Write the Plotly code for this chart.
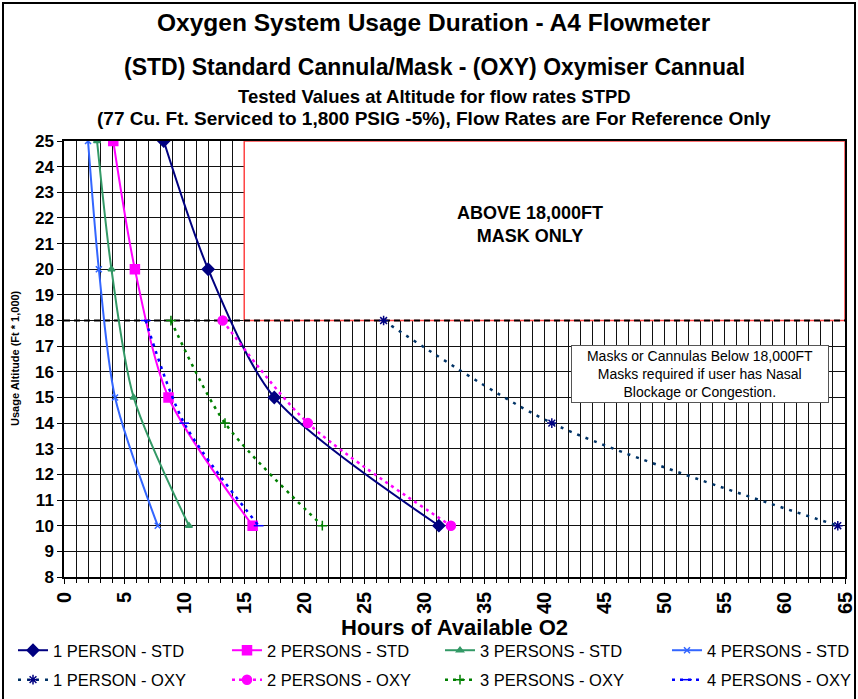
import plotly.graph_objects as go

# ---------------- data ----------------
alt_std = [25, 20, 15, 10]
alt_oxy = [18, 14, 10]

p1_std = [8.3, 12.0, 17.5, 31.2]
p2_std = [4.1, 5.9, 8.7, 15.7]
p3_std = [2.75, 3.95, 5.8, 10.4]
p4_std = [2.0, 2.9, 4.25, 7.8]

p1_oxy = [26.6, 40.6, 64.4]
p2_oxy = [13.2, 20.3, 32.2]
p3_oxy = [8.9, 13.4, 21.5]
p4_oxy = [6.8, 10.0, 16.2]

names_std = ["1 PERSON - STD", "2 PERSONS - STD", "3 PERSONS - STD", "4 PERSONS - STD"]
names_oxy = ["1 PERSON - OXY", "2 PERSONS - OXY", "3 PERSONS - OXY", "4 PERSONS - OXY"]

title_lines = [
    "Oxygen System Usage Duration - A4 Flowmeter",
    "(STD) Standard Cannula/Mask - (OXY) Oxymiser Cannual",
    "Tested Values at Altitude for flow rates STPD",
    "(77 Cu. Ft. Serviced to 1,800 PSIG -5%), Flow Rates are For Reference Only",
]
x_title = "Hours of Available O2"
y_title = "Usage Altitude (Ft * 1,000)"
mask_text = "ABOVE 18,000FT<br>MASK ONLY"
note_text = "Masks or Cannulas Below 18,000FT<br>Masks required if user has Nasal<br>Blockage or Congestion."

FONT = "Liberation Sans, Arial, sans-serif"

# ---------------- figure ----------------
W, H = 858, 699
ML, MR, MT, MB = 64, 13, 141, 122
PW = W - ML - MR
PH = H - MT - MB


def px_x(px):
    return (px - ML) / PW


def px_y(py):
    return (H - MB - py) / PH


fig = go.Figure()

std_styles = [
    dict(color="#000080", symbol="diamond", size=9),
    dict(color="#FF00FF", symbol="square", size=9),
    dict(color="#339966", symbol="triangle-up", size=6),
    dict(color="#3366FF", symbol="x-thin-open", size=6),
]
oxy_styles = [
    dict(color="#003366", mcolor="#000080", symbol="asterisk-open", size=8, dash="3px,6px"),
    dict(color="#FF00FF", mcolor="#FF00FF", symbol="circle", size=9, dash="3px,4px"),
    dict(color="#008000", mcolor="#008000", symbol="cross-thin-open", size=7, dash="3px,5px"),
    dict(color="#0000FF", mcolor="#0000FF", symbol="line-ew-open", size=7, dash="3px,5px"),
]

std_vals = [p1_std, p2_std, p3_std, p4_std]
oxy_vals = [p1_oxy, p2_oxy, p3_oxy, p4_oxy]
legends = ["legend", "legend2", "legend3", "legend4"]

for i in range(4):
    s = std_styles[i]
    fig.add_trace(go.Scatter(
        x=std_vals[i], y=alt_std, name=names_std[i], mode="lines+markers",
        line=dict(color=s["color"], width=2, shape="spline", smoothing=0.8),
        marker=dict(symbol=s["symbol"], size=s["size"], color=s["color"],
                    line=dict(color=s["color"], width=1.5)),
        legend=legends[i], legendgroup="std%d" % i,
    ))
for i in range(4):
    s = oxy_styles[i]
    fig.add_trace(go.Scatter(
        x=oxy_vals[i], y=alt_oxy, name=names_oxy[i], mode="lines+markers",
        line=dict(color=s["color"], width=2.5, dash=s["dash"], shape="spline", smoothing=0.8),
        marker=dict(symbol=s["symbol"], size=s["size"], color=s["mcolor"],
                    line=dict(color=s["mcolor"], width=1.5)),
        legend=legends[i], legendgroup="oxy%d" % i,
    ))

# shapes: mask-only box, 18,000 ft dashed line, outer border
fig.add_shape(type="rect", xref="x", yref="y", x0=15, x1=65, y0=18, y1=25,
              fillcolor="white", line=dict(color="#FF4444", width=1.5), layer="between")
fig.add_shape(type="line", xref="x", yref="y", x0=0, x1=65, y0=18, y1=18,
              line=dict(color="black", width=2, dash="6px,4px"), layer="between")
fig.add_shape(type="rect", xref="paper", yref="paper",
              x0=px_x(3), x1=px_x(855), y0=px_y(705), y1=px_y(3),
              line=dict(color="black", width=2), layer="above")

ann = []
title_y = [22, 67, 97, 118]
title_sz = [24.5, 23, 18.5, 19]
for t, yy, sz in zip(title_lines, title_y, title_sz):
    ann.append(dict(text="<b>%s</b>" % t, xref="paper", yref="paper", x=px_x(434), y=px_y(yy),
                    xanchor="center", yanchor="middle", showarrow=False,
                    font=dict(family=FONT, size=sz, color="black")))
ann.append(dict(text="<b>%s</b>" % x_title, xref="paper", yref="paper", x=px_x(454), y=px_y(627),
                xanchor="center", yanchor="middle", showarrow=False,
                font=dict(family=FONT, size=22, color="black")))
ann.append(dict(text="<b>%s</b>" % y_title, xref="paper", yref="paper", x=px_x(15), y=px_y(358),
                xanchor="center", yanchor="middle", showarrow=False, textangle=-90,
                font=dict(family=FONT, size=11, color="black")))
ann.append(dict(text="<b>%s</b>" % mask_text, xref="x", yref="y", x=38.8, y=21.75,
                xanchor="center", yanchor="middle", showarrow=False,
                font=dict(family=FONT, size=18, color="black")))
ann.append(dict(text=note_text, xref="x", yref="y", x=52.9, y=15.93,
                xanchor="center", yanchor="middle", showarrow=False, align="center",
                bgcolor="white", bordercolor="#555555", borderwidth=1, borderpad=2,
                width=252,
                font=dict(family=FONT, size=14, color="black")))

leg_common = dict(orientation="v", xanchor="left", yanchor="top", bgcolor="rgba(0,0,0,0)",
                  borderwidth=0, tracegroupgap=5,
                  font=dict(family=FONT, size=16.5, color="black"))
col_text_x = [55, 269, 482, 709]
legend_layout = {}
for k, tx in zip(legends, col_text_x):
    legend_layout[k] = dict(leg_common, x=px_x(tx - 40 - 2), y=px_y(633))

fig.update_layout(
    width=W, height=H,
    margin=dict(l=ML, r=MR, t=MT, b=MB, autoexpand=False),
    paper_bgcolor="white", plot_bgcolor="white",
    showlegend=True,
    annotations=ann,
    **legend_layout,
    xaxis=dict(range=[0, 65], dtick=5, tick0=0, tickangle=-90,
               tickfont=dict(family=FONT, size=20, color="black", weight="bold"),
               ticks="outside", ticklen=5, tickcolor="black",
               showgrid=True, gridcolor="#111111", gridwidth=1,
               minor=dict(dtick=1, ticks="outside", ticklen=4, tickcolor="black",
                          showgrid=True, gridcolor="#111111", gridwidth=1),
               showline=True, linecolor="black", linewidth=1.5, mirror=True,
               zeroline=False, fixedrange=True),
    yaxis=dict(range=[8, 25], dtick=1, tick0=8,
               tickfont=dict(family=FONT, size=17, color="black", weight="bold"),
               ticks="outside", ticklen=5, tickcolor="black",
               showgrid=True, gridcolor="#111111", gridwidth=1,
               showline=True, linecolor="black", linewidth=1.5, mirror=True,
               zeroline=False, fixedrange=True),
)

fig.write_html("out.html",
               config={"displayModeBar": False},
               post_script="document.body.style.margin='0px';document.body.style.overflow='hidden';")
